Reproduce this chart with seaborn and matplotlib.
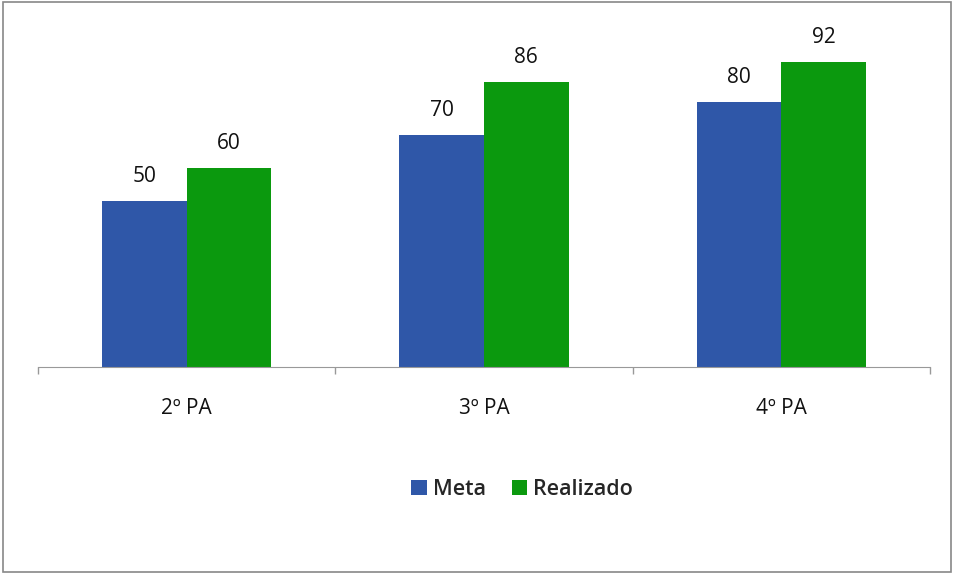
import seaborn as sns
import matplotlib.pyplot as plt
import pandas as pd
from matplotlib.patches import Rectangle

categorias = ["2º PA", "3º PA", "4º PA"]
meta = [50, 70, 80]
realizado = [60, 86, 92]
series = ["Meta", "Realizado"]
cores = ["#2F57A8", "#0B990E"]

df = pd.DataFrame({
    "PA": categorias * 2,
    "Serie": [series[0]] * 3 + [series[1]] * 3,
    "Valor": meta + realizado,
})

sns.set_style("white")
plt.rcParams["font.family"] = ["Open Sans", "DejaVu Sans"]

fig = plt.figure(figsize=(9.54, 5.74), dpi=100)
ax = fig.add_axes([0.0398, 0.3606, 0.935, 0.578])

sns.barplot(ax=ax, data=df, x="PA", y="Valor", hue="Serie", palette=cores,
            width=0.57, gap=0, saturation=1, legend=True, linewidth=0)

for cont in ax.containers:
    ax.bar_label(cont, fontsize=15, padding=10, color="#111111")

ax.set_xlim(-0.5, 2.5)
ax.set_ylim(0, 100)
ax.set_xlabel("")
ax.set_ylabel("")
ax.set_yticks([])
for s in ["top", "left", "right"]:
    ax.spines[s].set_visible(False)
ax.spines["bottom"].set_color("#999999")
ax.set_xticks([0, 1, 2])
ax.set_xticklabels(categorias, fontsize=15, color="#111111")
ax.tick_params(axis="x", which="major", length=0, pad=22, bottom=True)
ax.set_xticks([-0.5, 0.5, 1.5, 2.5], minor=True)
ax.tick_params(axis="x", which="minor", length=5, width=1, color="#999999",
               direction="out", bottom=True)

ax.legend(loc="center", bbox_to_anchor=(0.543, -0.37), ncol=2, frameon=False,
          handlelength=0.7, handleheight=0.7, handletextpad=0.3,
          columnspacing=1.2, prop={"size": 15.5, "weight": "semibold"})

fig.patches.append(Rectangle((0.003, 0.003), 0.994, 0.994, transform=fig.transFigure,
                             fill=False, edgecolor="#888888", linewidth=1.2))

fig.savefig("out.png", dpi=100)
